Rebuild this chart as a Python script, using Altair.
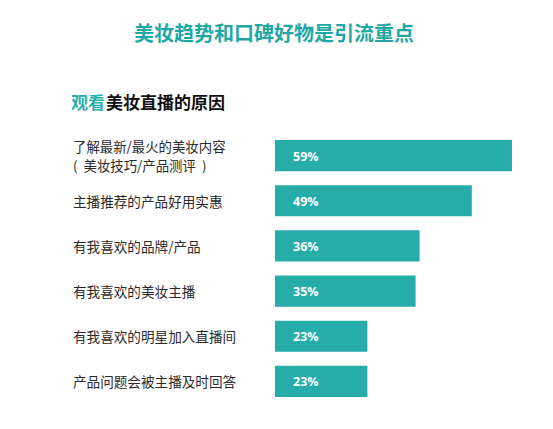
import altair as alt
import pandas as pd

categories = [
    "了解最新/最火的美妆内容|(\u00a0\u00a0美妆技巧/产品测评\u00a0\u00a0)",
    "主播推荐的产品好用实惠",
    "有我喜欢的品牌/产品",
    "有我喜欢的美妆主播",
    "有我喜欢的明星加入直播间",
    "产品问题会被主播及时回答",
]
values = [59, 49, 36, 35, 23, 23]
value_labels = ["59%", "49%", "36%", "35%", "23%", "23%"]

title_text = "美妆趋势和口碑好物是引流重点"
sub_teal = "观看"
sub_black = "美妆直播的原因"

df = pd.DataFrame({"cat": categories, "val": values, "lab": value_labels})

TEAL = "#26ADA9"
CJK = "Noto Sans CJK SC"

y_enc = alt.Y("cat:N", sort=categories, axis=None,
              scale=alt.Scale(paddingInner=0.31, paddingOuter=0.155))
x_scale = alt.Scale(domain=[0, 60], nice=False, zero=True)

base = alt.Chart(df)

bars = base.mark_bar(color=TEAL, cornerRadius=0).encode(
    x=alt.X("val:Q", scale=x_scale, axis=None),
    y=y_enc,
)

pct = base.mark_text(align="left", baseline="middle", color="white",
                     font="Open Sans", fontWeight="bold", fontSize=12.5, dy=1).encode(
    x=alt.value(18),
    y=y_enc,
    text="lab:N",
)

label_style = dict(align="left", baseline="middle", color="#2a2a2a",
                   font=CJK, fontSize=13.6)

cat_single = base.transform_filter("indexof(datum.cat, '|') < 0").mark_text(
    dy=2, **label_style).encode(
    x=alt.value(-202),
    y=y_enc,
    text="cat:N",
)

multi = base.transform_filter("indexof(datum.cat, '|') >= 0").transform_calculate(
    line1="split(datum.cat, '|')[0]",
    line2="split(datum.cat, '|')[1]",
)

cat_line1 = multi.mark_text(dy=-7.5, fontSize=13.4, **{k: v for k, v in label_style.items() if k != "fontSize"}).encode(
    x=alt.value(-202), y=y_enc, text="line1:N")
cat_line2 = multi.mark_text(dy=11, fontSize=13.4, **{k: v for k, v in label_style.items() if k != "fontSize"}).encode(
    x=alt.value(-202), y=y_enc, text="line2:N")

title_df = pd.DataFrame({"t": [title_text]})
title_mark = alt.Chart(title_df).mark_text(
    align="center", baseline="middle", color="#1EA7A4", font=CJK,
    fontWeight="bold", fontSize=20).encode(
    x=alt.value(-1), y=alt.value(-98), text="t:N")

sub1 = alt.Chart(pd.DataFrame({"t": [sub_teal]})).mark_text(
    align="left", baseline="middle", color="#2AAFAE", font=CJK,
    fontWeight="bold", fontSize=17).encode(
    x=alt.value(-204), y=alt.value(-29), text="t:N")

sub2 = alt.Chart(pd.DataFrame({"t": [sub_black]})).mark_text(
    align="left", baseline="middle", color="#111111", font=CJK,
    fontWeight="bold", fontSize=17).encode(
    x=alt.value(-169), y=alt.value(-29), text="t:N")

chart = alt.layer(bars, pct, cat_single, cat_line1, cat_line2, title_mark, sub1, sub2).properties(
    width=241, height=271,
    autosize=alt.AutoSizeParams(type="none"),
    padding={"left": 267, "top": 125, "right": 20, "bottom": 10},
).configure(background="white").configure_view(strokeWidth=0, stroke="transparent")

chart.save("out.html", embed_options={"renderer": "svg", "actions": False})
